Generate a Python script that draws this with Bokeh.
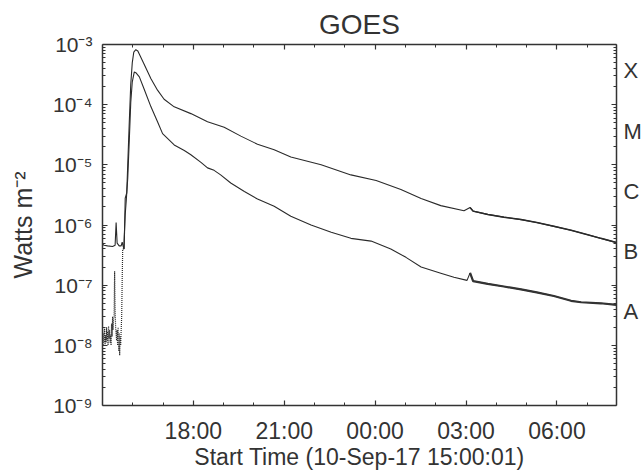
import pandas as pd
from bokeh.plotting import figure
from bokeh.models import (Range1d, FixedTicker, DatetimeAxis, LogAxis,
                          CustomJSTickFormatter, ColumnDataSource)
from bokeh.embed import file_html
from bokeh.resources import INLINE

# ---------------- data ----------------
long_time = ["2017-09-10 15:00", "2017-09-10 15:03", "2017-09-10 15:10", "2017-09-10 15:20",
             "2017-09-10 15:25", "2017-09-10 15:27", "2017-09-10 15:29", "2017-09-10 15:33",
             "2017-09-10 15:37", "2017-09-10 15:39", "2017-09-10 15:41", "2017-09-10 15:43",
             "2017-09-10 15:45", "2017-09-10 15:48", "2017-09-10 15:50", "2017-09-10 15:53",
             "2017-09-10 15:56", "2017-09-10 15:59", "2017-09-10 16:02", "2017-09-10 16:06",
             "2017-09-10 16:10", "2017-09-10 16:22", "2017-09-10 16:36", "2017-09-10 16:49",
             "2017-09-10 17:02", "2017-09-10 17:22", "2017-09-10 17:55", "2017-09-10 18:28",
             "2017-09-10 19:01", "2017-09-10 19:34", "2017-09-10 20:07", "2017-09-10 20:40",
             "2017-09-10 21:13", "2017-09-10 22:13", "2017-09-10 23:12", "2017-09-11 00:02",
             "2017-09-11 00:51", "2017-09-11 01:31", "2017-09-11 02:10", "2017-09-11 02:56",
             "2017-09-11 03:08", "2017-09-11 03:14", "2017-09-11 03:43", "2017-09-11 04:15",
             "2017-09-11 04:49", "2017-09-11 05:20", "2017-09-11 05:54", "2017-09-11 06:28",
             "2017-09-11 07:01", "2017-09-11 07:27", "2017-09-11 07:58"]
long_flux = [4.8e-7, 4.6e-7, 4.5e-7, 4.4e-7,
             4.6e-7, 1.1e-6, 5.0e-7, 4.5e-7,
             4.5e-7, 5.2e-7, 4.4e-7, 4.0e-7,
             2.8e-6, 3.4e-6, 1.0e-5, 5.0e-5,
             2.2e-4, 5.0e-4, 7.5e-4, 8.2e-4,
             7.8e-4, 4.8e-4, 2.7e-4, 1.74e-4,
             1.23e-4, 9.2e-5, 7.1e-5, 5.2e-5,
             4.2e-5, 3.0e-5, 2.2e-5, 1.78e-5,
             1.35e-5, 1.0e-5, 6.8e-6, 5.5e-6,
             3.9e-6, 2.75e-6, 2.1e-6, 1.72e-6,
             1.95e-6, 1.7e-6, 1.5e-6, 1.35e-6,
             1.23e-6, 1.1e-6, 9.5e-7, 8.2e-7,
             6.9e-7, 6.0e-7, 5.1e-7]

short_pre_time = ["2017-09-10 15:00", "2017-09-10 15:01", "2017-09-10 15:02", "2017-09-10 15:03",
                  "2017-09-10 15:04", "2017-09-10 15:05", "2017-09-10 15:06", "2017-09-10 15:07",
                  "2017-09-10 15:08", "2017-09-10 15:09", "2017-09-10 15:10", "2017-09-10 15:11",
                  "2017-09-10 15:12", "2017-09-10 15:13", "2017-09-10 15:14", "2017-09-10 15:15",
                  "2017-09-10 15:16", "2017-09-10 15:17", "2017-09-10 15:18", "2017-09-10 15:19",
                  "2017-09-10 15:20", "2017-09-10 15:21", "2017-09-10 15:22", "2017-09-10 15:23",
                  "2017-09-10 15:24", "2017-09-10 15:25", "2017-09-10 15:26", "2017-09-10 15:27",
                  "2017-09-10 15:28", "2017-09-10 15:29", "2017-09-10 15:30", "2017-09-10 15:31",
                  "2017-09-10 15:32", "2017-09-10 15:33", "2017-09-10 15:34", "2017-09-10 15:35",
                  "2017-09-10 15:36", "2017-09-10 15:37", "2017-09-10 15:38", "2017-09-10 15:39",
                  "2017-09-10 15:40"]
short_pre_flux = [1.8e-8, 1.0e-8, 1.6e-8, 1.1e-8,
                  1.9e-8, 1.0e-8, 1.5e-8, 1.1e-8,
                  2.0e-8, 1.2e-8, 1.7e-8, 1.0e-8,
                  2.1e-8, 1.3e-8, 1.8e-8, 1.1e-8,
                  1.5e-8, 1.0e-8, 2.3e-8, 1.4e-8,
                  3.0e-8, 1.8e-8, 2.8e-8, 3.0e-8,
                  1.7e-7, 4.0e-8, 2.0e-8, 1.5e-8,
                  1.2e-8, 1.8e-8, 1.0e-8, 2.0e-8,
                  8.0e-9, 1.6e-8, 6.8e-9, 1.4e-8,
                  1.0e-8, 1.8e-8, 3.0e-8, 1.2e-7,
                  4.0e-7]

short_time = ["2017-09-10 15:40", "2017-09-10 15:42", "2017-09-10 15:45", "2017-09-10 15:47",
              "2017-09-10 15:50", "2017-09-10 15:53", "2017-09-10 15:56", "2017-09-10 15:59",
              "2017-09-10 16:03", "2017-09-10 16:06", "2017-09-10 16:13", "2017-09-10 16:22",
              "2017-09-10 16:36", "2017-09-10 16:49", "2017-09-10 16:59", "2017-09-10 17:22",
              "2017-09-10 17:42", "2017-09-10 17:55", "2017-09-10 18:15", "2017-09-10 18:28",
              "2017-09-10 18:41", "2017-09-10 18:54", "2017-09-10 19:14", "2017-09-10 19:41",
              "2017-09-10 20:07", "2017-09-10 20:40", "2017-09-10 21:13", "2017-09-10 21:53",
              "2017-09-10 22:33", "2017-09-10 23:12", "2017-09-10 23:52", "2017-09-11 00:31",
              "2017-09-11 01:01", "2017-09-11 01:31", "2017-09-11 02:10", "2017-09-11 02:36",
              "2017-09-11 03:02", "2017-09-11 03:08", "2017-09-11 03:14", "2017-09-11 03:43",
              "2017-09-11 04:15", "2017-09-11 04:49", "2017-09-11 05:20", "2017-09-11 05:54",
              "2017-09-11 06:28", "2017-09-11 06:48", "2017-09-11 07:27", "2017-09-11 07:58"]
short_flux = [4.0e-7, 4.0e-7, 1.5e-6, 2.5e-6,
              6.0e-6, 2.5e-5, 1.1e-4, 2.4e-4,
              3.5e-4, 3.4e-4, 2.9e-4, 1.86e-4,
              9.2e-5, 5.2e-5, 3.3e-5, 2.14e-5,
              1.73e-5, 1.47e-5, 1.1e-5, 8.9e-6,
              8.1e-6, 6.8e-6, 5.0e-6, 3.6e-6,
              2.7e-6, 2.05e-6, 1.4e-6, 1.0e-6,
              7.6e-7, 6.0e-7, 5.4e-7, 4.0e-7,
              2.9e-7, 2.0e-7, 1.58e-7, 1.35e-7,
              1.2e-7, 1.6e-7, 1.17e-7, 1.05e-7,
              9.5e-8, 8.5e-8, 7.6e-8, 6.6e-8,
              5.5e-8, 5.2e-8, 5.0e-8, 4.7e-8]

x_start = "2017-09-10 15:00:01"
x_end = "2017-09-11 07:58:00"
major_tick_times = ["2017-09-10 18:00", "2017-09-10 21:00", "2017-09-11 00:00",
                    "2017-09-11 03:00", "2017-09-11 06:00"]
decades = [1e-9, 1e-8, 1e-7, 1e-6, 1e-5, 1e-4, 1e-3]
classes = ["X", "M", "C", "B", "A"]
class_floor = [1e-4, 1e-5, 1e-6, 1e-7, 1e-8]

# ---------------- figure ----------------
FONT = "Liberation Sans"
INK = "#333333"

p = figure(width=644, height=472, output_backend="svg", toolbar_location=None,
           x_axis_type="datetime", y_axis_type="log",
           x_range=Range1d(pd.Timestamp(x_start), pd.Timestamp(x_end)),
           y_range=Range1d(1e-9, 1e-3),
           min_border_left=102, min_border_right=28, min_border_top=44, min_border_bottom=65)
p.background_fill_color = "white"
p.border_fill_color = "white"
p.outline_line_color = None
p.xgrid.visible = False
p.ygrid.visible = False

p.title.text = "GOES"
p.title.align = "center"
p.title.text_font = FONT
p.title.text_font_size = "28px"
p.title.text_font_style = "normal"
p.title.text_color = INK
p.title.standoff = 9
p.title.offset = 6

def ms(t):
    return pd.Timestamp(t).value / 1e6

x_major = [ms(t) for t in major_tick_times]
x_minor = [ms(t) for t in pd.date_range("2017-09-10 16:00", "2017-09-11 07:00", freq="h")]
x_ticker = FixedTicker(ticks=x_major, minor_ticks=x_minor)
y_minor = [k * d for d in decades[:-1] for k in range(2, 10)]
y_ticker = FixedTicker(ticks=decades, minor_ticks=y_minor)
class_ticker = FixedTicker(ticks=[lvl * 10 ** 0.56 for lvl in class_floor], minor_ticks=[])

time_fmt = CustomJSTickFormatter(code="""
const d = new Date(tick);
return String(d.getUTCHours()).padStart(2,'0') + ':' + String(d.getUTCMinutes()).padStart(2,'0');
""")
pow_fmt = CustomJSTickFormatter(code="""
const e = Math.round(Math.log10(tick));
const sup = {'-':'\u207b','0':'\u2070','1':'\u00b9','2':'\u00b2','3':'\u00b3','4':'\u2074',
             '5':'\u2075','6':'\u2076','7':'\u2077','8':'\u2078','9':'\u2079'};
return '10' + String(e).split('').map(c => sup[c]).join('');
""")
class_fmt = CustomJSTickFormatter(args=dict(names=classes), code="""
const i = Math.round(-3.5 - Math.log10(tick));
return names[Math.abs(i)];
""")
blank_fmt = CustomJSTickFormatter(code="return '';")

def style_axis(ax):
    ax.axis_line_color = INK
    ax.axis_line_width = 1.5
    ax.major_tick_line_color = INK
    ax.minor_tick_line_color = INK
    ax.major_tick_line_width = 1.2
    ax.minor_tick_line_width = 1
    ax.major_tick_in = 5
    ax.major_tick_out = 0
    ax.minor_tick_in = 3
    ax.minor_tick_out = 0
    ax.major_label_text_font = FONT
    ax.major_label_text_color = INK
    ax.axis_label_text_font = FONT
    ax.axis_label_text_color = INK
    ax.axis_label_text_font_style = "normal"

xa = p.xaxis[0]
xa.ticker = x_ticker
xa.formatter = time_fmt
style_axis(xa)
xa.major_label_text_font_size = "23px"
xa.major_label_standoff = 12
xa.axis_label = "Start Time (10-Sep-17 15:00:01)"
xa.axis_label_text_font_size = "23px"
xa.axis_label_standoff = -3

ya = p.yaxis[0]
ya.ticker = y_ticker
ya.formatter = pow_fmt
style_axis(ya)
ya.major_label_text_font_size = "21px"
ya.major_label_standoff = 10
ya.axis_label = "Watts m\u207b\u00b2"
ya.axis_label_text_font_size = "25px"
ya.axis_label_standoff = 13

top = DatetimeAxis(ticker=x_ticker, formatter=blank_fmt, major_label_standoff=0)
style_axis(top)
p.add_layout(top, "above")
right = LogAxis(ticker=y_ticker, formatter=blank_fmt, major_label_standoff=0)
style_axis(right)
p.add_layout(right, "right")
letters = LogAxis(ticker=class_ticker, formatter=class_fmt, major_label_standoff=7)
style_axis(letters)
letters.axis_line_color = None
letters.major_tick_line_color = None
letters.minor_tick_line_color = None
letters.major_label_text_font_size = "22px"
p.add_layout(letters, "right")

# ---------------- curves ----------------
src_long = ColumnDataSource(dict(t=pd.to_datetime(long_time), f=long_flux))
src_pre = ColumnDataSource(dict(t=pd.to_datetime(short_pre_time), f=short_pre_flux))
src_short = ColumnDataSource(dict(t=pd.to_datetime(short_time), f=short_flux))
tail_long = ColumnDataSource(dict(t=pd.to_datetime(long_time[40:]), f=long_flux[40:]))
tail_short = ColumnDataSource(dict(t=pd.to_datetime(short_time[37:]), f=short_flux[37:]))

p.line("t", "f", source=src_long, line_color="#2a2a2a", line_width=1.1)
p.line("t", "f", source=tail_long, line_color="#2a2a2a", line_width=1.5)
p.line("t", "f", source=src_pre, line_color="#2a2a2a", line_width=1.2, line_dash="1 1")
p.line("t", "f", source=src_short, line_color="#2a2a2a", line_width=1.1)
p.line("t", "f", source=tail_short, line_color="#333333", line_width=2.2)

open("out.html", "w").write(file_html(p, INLINE))
